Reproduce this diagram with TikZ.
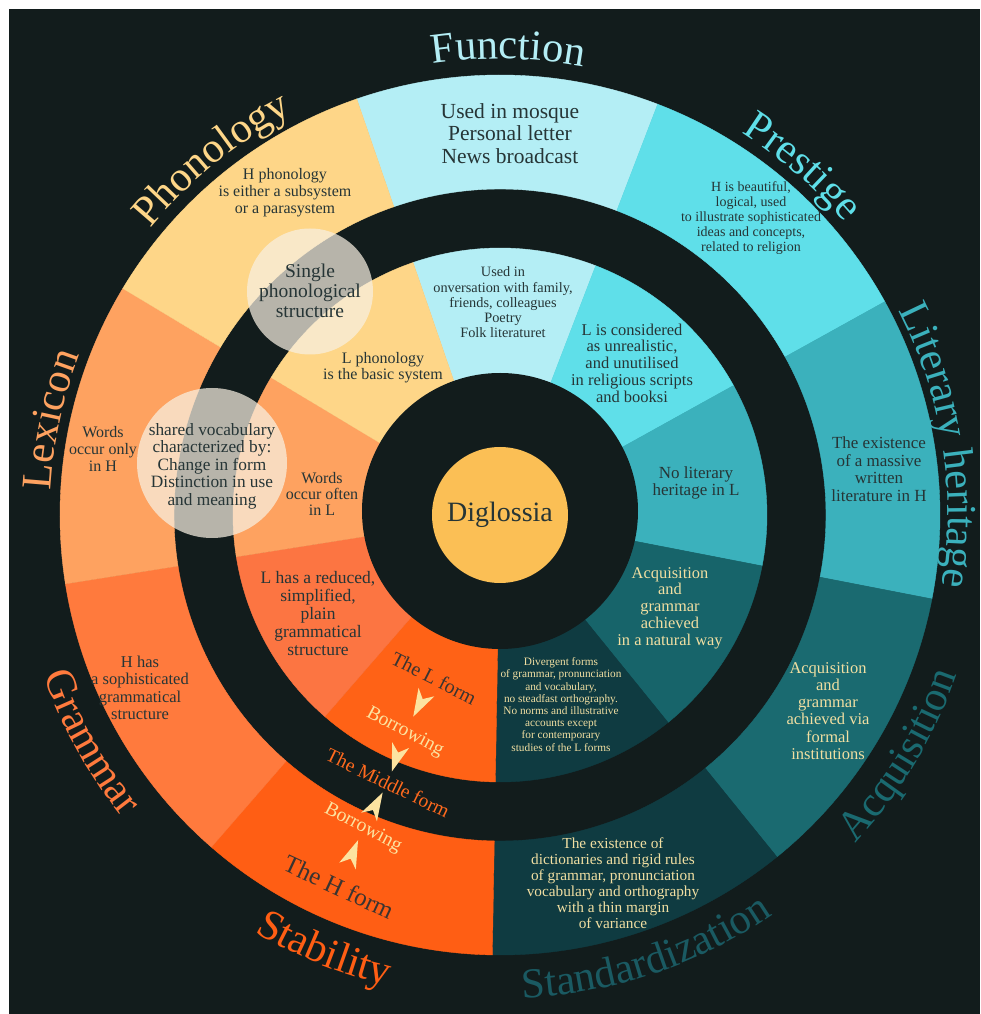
\documentclass[tikz,border=0pt]{standalone}
\usepackage{fontspec}
\setmainfont{Liberation Serif}
\usetikzlibrary{decorations.text,decorations.markings}

% palette
\definecolor{bg}{HTML}{121C1C}
\definecolor{funC}{HTML}{B4EEF5}
\definecolor{preC}{HTML}{5FDFE9}
\definecolor{litC}{HTML}{3BB1BC}
\definecolor{acqC}{HTML}{1A6A70}
\definecolor{acqI}{HTML}{17646A}
\definecolor{staC}{HTML}{0F3B41}
\definecolor{staL}{HTML}{1A5A62}
\definecolor{stbC}{HTML}{FF5E14}
\definecolor{stbI}{HTML}{FF6216}
\definecolor{graC}{HTML}{FF7A3D}
\definecolor{graI}{HTML}{FC7542}
\definecolor{lexC}{HTML}{FEA260}
\definecolor{phoC}{HTML}{FED688}
\definecolor{digC}{HTML}{FBBF55}
\definecolor{ink}{HTML}{263536}
\definecolor{pale}{HTML}{F1DFA2}
\definecolor{brown}{HTML}{3A3431}
\definecolor{midC}{HTML}{FF6A1E}
\definecolor{chevC}{HTML}{FCE3A0}
\definecolor{haze}{HTML}{F8F0E2}

\newcommand\fs[2]{\fontsize{#1}{#2}\selectfont}
% annular sector: colour, start angle, end angle, inner radius, outer radius
\newcommand\sector[5]{\fill[#1,draw=#1,line width=0.4pt] (#2:#4) arc[start angle=#2,end angle=#3,radius=#4] -- (#3:#5) arc[start angle=#3,end angle=#2,radius=#5] -- cycle;}
% ring titles along an arc: colour, centre angle, baseline radius, text
% clockwise titles stand outside the ring, counter-clockwise ones face the centre
\newcommand\cwlabel[4]{\path[decorate,decoration={text along path,text align=center,text={|\fs{42.5}{42.5}\color{#1}|#4}}] ({#2+36}:#3) arc[start angle={#2+36},end angle={#2-36},radius=#3];}
\newcommand\ccwlabel[4]{\path[decorate,decoration={text along path,text align=center,text={|\fs{42.5}{42.5}\color{#1}|#4}}] ({#2-36}:#3) arc[start angle={#2-36},end angle={#2+36},radius=#3];}

\tikzset{
  txt/.style={align=center,inner sep=0pt,text=ink},
  ltxt/.style={align=center,inner sep=0pt,text=pale},
  chevpath/.style={postaction={decorate},decoration={markings,
    mark=at position #1 with {\fill[chevC] (14,0) -- (-14,-9) -- (-6,0) -- (-14,9) -- cycle;}}},
  chevpath/.default=0.5
}

\begin{document}
\begin{tikzpicture}[x=1pt,y=1pt]
\useasboundingbox (-500,-499) rectangle (480,515);
\fill[white] (-500,-499) rectangle (480,515);
\fill[bg] (-491,-499) rectangle (480,506);

% outer ring
\sector{funC}{69}{109}{326}{440}
\sector{preC}{29}{69}{326}{440}
\sector{litC}{-11}{29}{326}{440}
\sector{acqC}{-51}{-11}{326}{440}
\sector{staC}{-91}{-51}{326}{440}
\sector{stbC}{-131}{-91}{326}{440}
\sector{graC}{-171}{-131}{326}{440}
\sector{lexC}{149}{189}{326}{440}
\sector{phoC}{109}{149}{326}{440}
% inner ring
\sector{funC}{69}{109}{60}{267}
\sector{preC}{29}{69}{60}{267}
\sector{litC}{-11}{29}{60}{267}
\sector{acqI}{-51}{-11}{60}{267}
\sector{staC}{-91}{-51}{60}{267}
\sector{stbI}{-131}{-91}{60}{267}
\sector{graI}{-171}{-131}{60}{267}
\sector{lexC}{149}{189}{60}{267}
\sector{phoC}{109}{149}{60}{267}
% dark disc around the centre
\fill[bg] (0,4) circle[radius=138];

% centre
\node[circle,fill=digC,minimum size=136pt,inner sep=0pt,text=ink,font=\fs{28}{30}] (dig) at (0,0) {Diglossia};

% shared areas
\fill[haze,fill opacity=0.72] (-190,223.5) circle[radius=63];
\fill[haze,fill opacity=0.72] (-288,52) circle[radius=75];

% ring titles
\cwlabel{funC}{89}{456}{Function}
\cwlabel{preC}{49}{452}{Prestige}
\cwlabel{litC}{9}{448}{Literary heritage}
\cwlabel{lexC}{168}{450}{Lexicon}
\cwlabel{phoC}{129}{452}{Phonology}
\ccwlabel{acqC}{-31}{484}{Acquisition}
\ccwlabel{staL}{-71.5}{484}{Standardization}
\ccwlabel{stbC}{-112}{484}{Stability}
\ccwlabel{graC}{-151}{484}{Grammar}

% outer ring texts (H)
\node[txt,font=\fs{21.5}{22.5}] (funO) at (10,381.5) {Used in mosque\\Personal letter\\News broadcast};
\node[txt,font=\fs{16}{17}] (phoO) at (-215,322) {H phonology\\is either a subsystem\\or a parasystem};
\node[txt,font=\fs{14}{15.2}] (preO) at (251,297) {H is beautiful,\\logical, used\\to illustrate sophisticated\\ideas and concepts,\\related to religion};
\node[txt,font=\fs{17}{17.5}] (litO) at (379,46) {The existence\\of a massive\\written\\literature in H};
\node[ltxt,font=\fs{16.5}{17.2}] (acqO) at (328,-196) {Acquisition\\and\\grammar\\achieved via\\formal\\institutions};
\node[ltxt,font=\fs{15.3}{16}] (staO) at (113,-368) {The existence of\\dictionaries and rigid rules\\of grammar, pronunciation\\vocabulary and orthography\\with a thin margin\\of variance};
\node[txt,font=\fs{16.5}{17.5}] (graO) at (-360,-173) {H has\\a sophisticated\\grammatical\\structure};
\node[txt,font=\fs{16}{17}] (lexO) at (-397,66) {Words\\occur only\\in H};

% inner ring texts (L)
\node[txt,font=\fs{16}{16}] (phoI) at (-117,147) {L phonology\\is the basic system};
\node[txt,font=\fs{14.3}{15.3}] (funI) at (3,212.5) {Used in\\onversation with family,\\friends, colleagues\\Poetry\\Folk literaturet};
\node[txt,font=\fs{16.5}{16.8}] (preI) at (132,152) {L is considered\\as unrealistic,\\and unutilised\\in religious scripts\\and booksi};
\node[txt,font=\fs{17}{17}] (litI) at (196,32) {No literary\\heritage in L};
\node[ltxt,font=\fs{16.4}{16.7}] (acqI) at (170,-93) {Acquisition\\and\\grammar\\achieved\\in a natural way};
\node[ltxt,font=\fs{11.3}{12.2}] (staI) at (61,-189.5) {Divergent forms\\of grammar, pronunciation\\and vocabulary,\\no steadfast orthography.\\No norms and illustrative\\accounts except\\for contemporary\\studies of the L forms};
\node[txt,font=\fs{17.5}{18}] (graI) at (-182,-99) {L has a reduced,\\simplified,\\plain\\grammatical\\structure};
\node[txt,font=\fs{16}{16}] (lexI) at (-178,21) {Words\\occur often\\in L};

% shared-area texts
\node[txt,font=\fs{19.5}{20}] (phonShared) at (-190,224) {Single\\phonological\\structure};
\node[txt,font=\fs{17.3}{17.5}] (lexShared) at (-288,49) {shared vocabulary\\characterized by:\\Change in form\\Distinction in use\\and meaning};

% stability: the borrowing chain
\node[txt,text=brown,font=\fs{20}{20},rotate=-27] (lform) at (-66,-163) {The L form};
\node[txt,text=chevC,font=\fs{19.5}{20},rotate=-28] (borrowA) at (-95,-217) {Borrowing};
\node[txt,text=midC,font=\fs{19.5}{20},rotate=-26] (midform) at (-112,-268) {The Middle form};
\node[txt,text=chevC,font=\fs{19.5}{20},rotate=-28] (borrowB) at (-137,-313) {Borrowing};
\node[txt,text=brown,font=\fs{25}{25},rotate=-25] (hform) at (-161,-372) {The H form};

\path[chevpath] (lform) -- (borrowA);
\path[chevpath] (borrowA) -- (midform);
\path[chevpath] (borrowB) -- (midform);
\path[chevpath=0.6] (hform) -- (borrowB);
\end{tikzpicture}
\end{document}
